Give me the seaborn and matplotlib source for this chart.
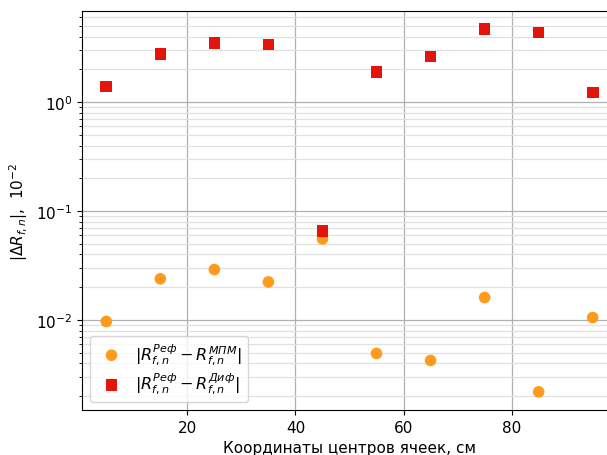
import numpy as np
import pandas as pd
import matplotlib
matplotlib.use('Agg')
import matplotlib.pyplot as plt
import seaborn as sns

# координаты центров ячеек и отклонения (в единицах 1e-2)
x_cells = [5, 15, 25, 35, 45, 55, 65, 75, 85, 95]
d_mpm = [0.0097, 0.0239, 0.0291, 0.0224, 0.0556, 0.00493, 0.00425, 0.0161, 0.00219, 0.01054]
d_dif = [1.39, 2.79, 3.51, 3.39, 0.0653, 1.89, 2.63, 4.69, 4.37, 1.23]

label_mpm = r'$|R_{f,n}^{Реф} - R_{f,n}^{МПМ}|$'
label_dif = r'$|R_{f,n}^{Реф} - R_{f,n}^{Диф}|$'

df = pd.DataFrame({'x': x_cells + x_cells,
                   'y': d_mpm + d_dif,
                   'kind': [label_mpm] * len(x_cells) + [label_dif] * len(x_cells)})

fig = plt.figure(figsize=(6.07, 4.56), dpi=100)
ax = fig.add_axes([0.135, 0.0987, 0.8815, 0.875])

sns.scatterplot(data=df[df.kind == label_mpm], x='x', y='y', ax=ax, color='#ff9a1c',
                marker='o', s=70, edgecolor='none', label=label_mpm, zorder=3)
sns.scatterplot(data=df[df.kind == label_dif], x='x', y='y', ax=ax, color='#e5140a',
                marker='s', s=70, edgecolor='none', label=label_dif, zorder=3)

ax.set_yscale('log')
ax.grid(True, which='major', color='#b0b0b0', linewidth=0.9)
ax.grid(True, which='minor', axis='y', color='#e0e0e0', linewidth=0.9)
ax.set_xticks([20, 40, 60, 80])
ax.set_xlabel('Координаты центров ячеек, см', fontsize=11)
ax.set_ylabel(r'$|\Delta R_{f,n}|$,  $10^{-2}$', fontsize=11)
ax.tick_params(labelsize=11)
ax.legend(loc='lower left', fontsize=11.5, handletextpad=0.5, borderpad=0.35,
          labelspacing=0.25)

plt.savefig('out.png', dpi=100)
